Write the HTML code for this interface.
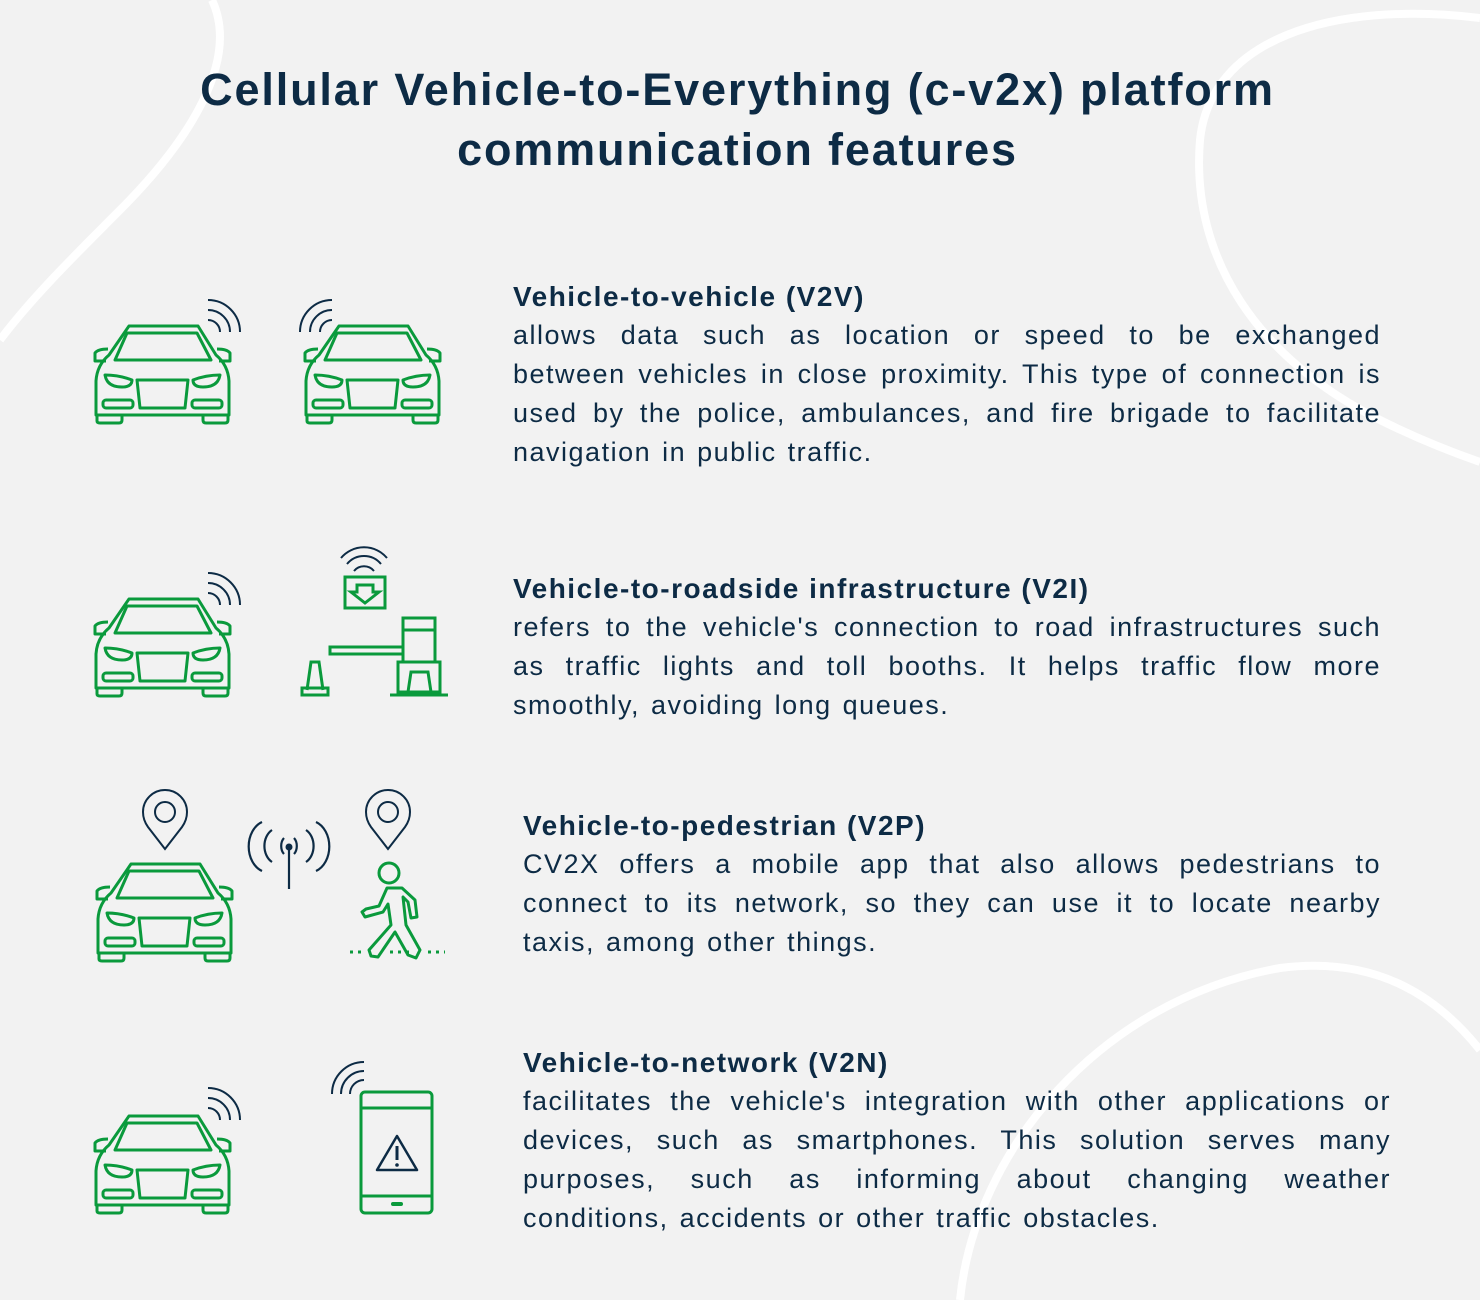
<!DOCTYPE html>
<html><head><meta charset="utf-8"><style>
html,body{margin:0;padding:0}
body{width:1480px;height:1300px;background:#f2f2f2;position:relative;overflow:hidden;font-family:"Liberation Sans",sans-serif;color:#0d2b45}
svg.bg{position:absolute;left:0;top:0}
.title{position:absolute;left:0;width:1475px;top:60px;text-align:center;font-weight:bold;font-size:45px;line-height:60px;letter-spacing:1.85px}
.blk{position:absolute;font-size:27px;line-height:39px;letter-spacing:1.5px;word-spacing:2px}
.blk h3{margin:0;font-size:28px;font-weight:bold;line-height:39px;letter-spacing:1.5px;word-spacing:0}
.l{text-align:justify;text-align-last:justify;white-space:nowrap}
.l.last{text-align-last:left}
</style></head><body>
<svg class="bg" width="1480" height="1300" viewBox="0 0 1480 1300">
<g fill="none" stroke="#fff" stroke-width="8">
<path d="M212,0 C240,60 190,140 120,210 C70,260 30,300 0,340"/>
<path d="M1480,18 C1330,0 1210,40 1200,140 C1190,260 1260,360 1380,420 C1420,440 1460,455 1480,462"/>
<path d="M960,1300 C975,1150 1100,1000 1280,968 C1380,955 1440,1000 1480,1050"/>
</g>
<defs>
<g id="car" fill="none" stroke="#0a9a3c" stroke-width="3" stroke-linejoin="round">
<path d="M35,1 L104,1 L122,30 Q134,40 135,56 L135,90 L2,90 L2,56 Q3,40 15,30 Z"/>
<path d="M33,8 L103,8 L117,35 L21,35 Z"/>
<path d="M14,24 Q4,24 1,28 L1,36 L12,36"/>
<path d="M123,24 Q133,24 136,28 L136,36 L125,36"/>
<path d="M11,50 Q25,50 38,55 Q38,62 28,62 Q13,62 11,50 Z"/>
<path d="M126,50 Q112,50 99,55 Q99,62 109,62 Q124,62 126,50 Z"/>
<path d="M43,55 L94,55 L91,83 L46,83 Z"/>
<rect x="9" y="75" width="30" height="8" rx="3"/>
<rect x="98" y="75" width="30" height="8" rx="3"/>
<path d="M3,90 L3,96 Q3,98 6,98 L25,98 Q28,98 28,95 L28,90"/>
<path d="M109,90 L109,95 Q109,98 112,98 L131,98 Q134,98 134,95 L134,90"/>
</g>
<g id="wr" fill="none" stroke="#0d2b45" stroke-width="2">
<path d="M0,-12 A12,12 0 0 1 12,0"/><path d="M0,-22 A22,22 0 0 1 22,0"/><path d="M0,-32 A32,32 0 0 1 32,0"/>
</g>
<g id="pin" fill="none" stroke="#0d2b45" stroke-width="2">
<path d="M0,47 L-17,25 Q-22,18 -22,10 A22,22 0 0 1 22,10 Q22,18 17,25 Z" transform="translate(0,-10)"/>
<circle cx="0" cy="0" r="10"/>
</g>
</defs>
<use href="#car" x="94" y="325"/>
<use href="#wr" x="208" y="332"/>
<use href="#car" x="304" y="325"/>
<use href="#wr" transform="translate(332,332) scale(-1,1)"/>
<use href="#car" x="94" y="598"/>
<use href="#wr" x="208" y="605"/>
<use href="#car" x="96" y="863"/>
<use href="#car" x="94" y="1115"/>
<use href="#wr" x="208" y="1120"/>
<g fill="none" stroke="#0d2b45" stroke-width="2">
<path d="M341,558 A30,30 0 0 1 387,558"/><path d="M347,564 A22,22 0 0 1 381,564"/><path d="M354,571 A13,13 0 0 1 374,571"/>
</g>
<g fill="none" stroke="#0a9a3c" stroke-width="3">
<rect x="345" y="577" width="40" height="31"/>
<path d="M357,585 L373,585 L373,592 L379,592 L365,603 L351,592 L357,592 Z"/>
<rect x="403" y="618" width="32" height="44"/>
<line x1="403" y1="630" x2="435" y2="630"/>
<rect x="330" y="647" width="73" height="7"/>
<rect x="398" y="662" width="42" height="30"/>
<path d="M408,692 L411,672 L428,672 L431,692"/>
<line x1="390" y1="695" x2="448" y2="695"/>
<path d="M307,690 L311,662 L319,662 L323,690"/>
<rect x="302" y="688" width="26" height="7"/>
</g>
<use href="#pin" x="165" y="812"/>
<use href="#pin" x="388" y="812"/>
<g fill="none" stroke="#0d2b45" stroke-width="2.2">
<line x1="289" y1="848" x2="289" y2="889"/>
<path d="M284,838 A7,10 0 0 0 284,854"/><path d="M294,838 A7,10 0 0 1 294,854"/>
<path d="M272,830 A14,18 0 0 0 272,862"/><path d="M306,830 A14,18 0 0 1 306,862"/>
<path d="M262,822 A20,26 0 0 0 262,871"/><path d="M316,822 A20,26 0 0 1 316,871"/>
</g>
<circle cx="289" cy="847" r="3.5" fill="#0d2b45"/>
<g fill="none" stroke="#0a9a3c" stroke-width="3" stroke-linejoin="round" stroke-linecap="round">
<circle cx="389" cy="873" r="10"/>
<path d="M387,888 L402,888 L415,900 L417,917 L411,918 L408,902 L403,897 L406,925 L420,950 L416,958 L408,955 L395,932 L378,957 L371,956 L369,950 L391,925 L388,904 L383,912 L365,917 L362,912 L366,909 L379,906 Z"/>
</g>
<g stroke="#0a9a3c" stroke-width="3" stroke-dasharray="3,5">
<line x1="350" y1="952" x2="366" y2="952"/><line x1="390" y1="952" x2="410" y2="952"/><line x1="428" y1="952" x2="445" y2="952"/>
</g>
<g fill="none" stroke="#0d2b45" stroke-width="2">
<path d="M332,1094 A32,32 0 0 1 364,1062"/><path d="M341,1094 A23,23 0 0 1 364,1071"/><path d="M350,1094 A14,14 0 0 1 364,1080"/>
</g>
<g fill="none" stroke="#0a9a3c" stroke-width="3">
<rect x="361" y="1092" width="71" height="121" rx="4"/>
<line x1="361" y1="1108" x2="432" y2="1108"/>
<line x1="361" y1="1196" x2="432" y2="1196"/>
</g>
<rect x="391" y="1202" width="12" height="4" rx="2" fill="#0a9a3c"/>
<path d="M397,1136 L417,1170 L377,1170 Z" fill="none" stroke="#0d2b45" stroke-width="2.5" stroke-linejoin="round"/>
<line x1="397" y1="1146" x2="397" y2="1160" stroke="#0d2b45" stroke-width="3"/>
<circle cx="397" cy="1165" r="1.8" fill="#0d2b45"/>
</svg>

<div class="title">Cellular Vehicle-to-Everything (c-v2x) platform<br>communication features</div>

<div class="blk" style="left:513px;top:277px;width:868px">
<h3>Vehicle-to-vehicle (V2V)</h3>
<div class="l">allows data such as location or speed to be exchanged</div>
<div class="l">between vehicles in close proximity. This type of connection is</div>
<div class="l">used by the police, ambulances, and fire brigade to facilitate</div>
<div class="l last">navigation in public traffic.</div>
</div>

<div class="blk" style="left:513px;top:569px;width:868px">
<h3>Vehicle-to-roadside infrastructure (V2I)</h3>
<div class="l">refers to the vehicle's connection to road infrastructures such</div>
<div class="l">as traffic lights and toll booths. It helps traffic flow more</div>
<div class="l last">smoothly, avoiding long queues.</div>
</div>

<div class="blk" style="left:523px;top:806px;width:858px">
<h3>Vehicle-to-pedestrian (V2P)</h3>
<div class="l">CV2X offers a mobile app that also allows pedestrians to</div>
<div class="l">connect to its network, so they can use it to locate nearby</div>
<div class="l last">taxis, among other things.</div>
</div>

<div class="blk" style="left:523px;top:1043px;width:868px">
<h3>Vehicle-to-network (V2N)</h3>
<div class="l">facilitates the vehicle's integration with other applications or</div>
<div class="l">devices, such as smartphones. This solution serves many</div>
<div class="l">purposes, such as informing about changing weather</div>
<div class="l last">conditions, accidents or other traffic obstacles.</div>
</div>
</body></html>
